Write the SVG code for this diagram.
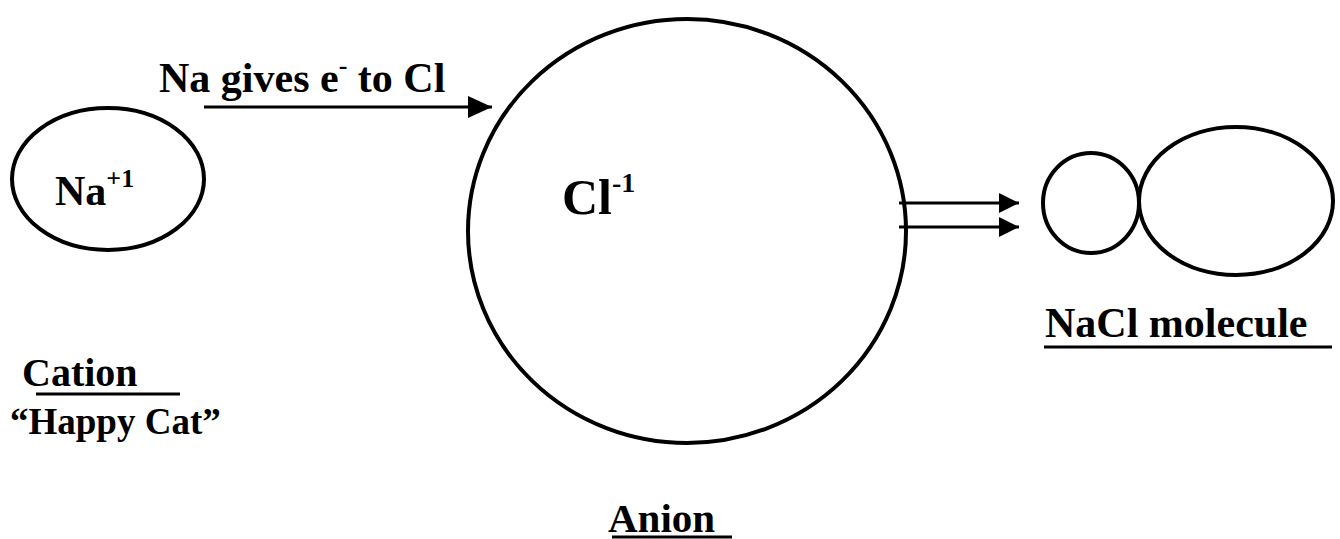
<svg xmlns="http://www.w3.org/2000/svg" width="1340" height="539" viewBox="0 0 1340 539">
<style>
text{font-family:'Liberation Serif','Times New Roman','DejaVu Serif',serif;font-weight:bold;fill:#000}
.o{fill:none;stroke:#000;stroke-width:4}
.l{stroke:#000;stroke-width:3}
.u{stroke:#000;stroke-width:3}
</style>
<defs>
<marker id="ah" markerWidth="24" markerHeight="22" refX="24" refY="11" markerUnits="userSpaceOnUse" orient="auto">
<path d="M0,0 L24,11 L0,22 Z" fill="#000"/>
</marker>
<marker id="ah2" markerWidth="20" markerHeight="20" refX="20" refY="10" markerUnits="userSpaceOnUse" orient="auto">
<path d="M0,0 L20,10 L0,20 Z" fill="#000"/>
</marker>
</defs>
<rect width="1340" height="539" fill="#fff"/>
<g id="cation">
<ellipse class="o" cx="108" cy="179" rx="96" ry="71"/>
<text x="55" y="205" font-size="42">Na<tspan font-size="26" dy="-18">+1</tspan></text>
<text x="22" y="386" font-size="40">Cation</text>
<line class="u" x1="36" y1="394" x2="180" y2="394"/>
<text x="10" y="434" font-size="37">“Happy Cat”</text>
</g>
<g id="anion">
<ellipse class="o" cx="687" cy="231" rx="219" ry="212"/>
<text x="562" y="214" font-size="50">Cl<tspan font-size="28" dy="-22">-1</tspan></text>
<text x="608" y="532" font-size="41">Anion</text>
<line class="u" x1="612" y1="537" x2="732" y2="537"/>
</g>
<g id="molecule">
<ellipse class="o" cx="1091" cy="203" rx="48" ry="50"/>
<ellipse class="o" cx="1236" cy="201" rx="97" ry="74"/>
<text x="1045" y="337" font-size="42">NaCl molecule</text>
<line class="u" x1="1044" y1="347" x2="1332" y2="347" stroke-width="4"/>
</g>
<g id="label-transfer">
<text x="159" y="92" font-size="42">Na gives e<tspan font-size="26" dy="-18">-</tspan><tspan dy="18"> to Cl</tspan></text>
</g>
<g id="connectors">
<line class="l" x1="204" y1="107" x2="492" y2="107" marker-end="url(#ah)"/>
<line class="l" x1="899" y1="203" x2="1019" y2="203" stroke-width="2" marker-end="url(#ah2)"/>
<line class="l" x1="899" y1="227" x2="1019" y2="227" stroke-width="2" marker-end="url(#ah2)"/>
</g>
</svg>
